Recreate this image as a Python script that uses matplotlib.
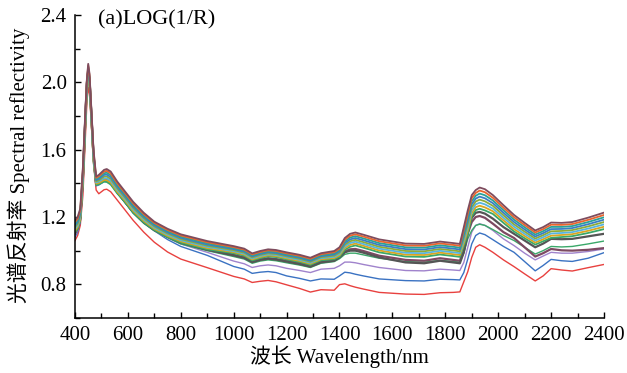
import matplotlib
matplotlib.use("Agg")
import matplotlib.pyplot as plt
from matplotlib.ticker import MultipleLocator

plt.rcParams['font.family'] = ['Liberation Serif', 'Noto Sans CJK SC']

# wavelength nodes (nm) at which every spectrum is sampled
wavelength = [400, 410, 420, 430, 440, 445, 450, 455, 460, 470,
              480, 490, 500, 510, 520, 535, 560, 590, 620, 660,
              700, 750, 800, 900, 1000, 1040, 1070, 1100, 1130, 1160,
              1200, 1250, 1290, 1330, 1380, 1400, 1420, 1440, 1460, 1490,
              1550, 1650, 1720, 1780, 1830, 1855, 1870, 1885, 1900, 1915,
              1930, 1950, 1980, 2020, 2060, 2100, 2140, 2170, 2200, 2240,
              2280, 2340, 2400]

# spectra lying below the main bundle
red_sample = [1.060, 1.090, 1.150, 1.330, 1.700, 1.880, 1.970, 1.930, 1.800, 1.520,
              1.360, 1.338, 1.350, 1.362, 1.365, 1.350, 1.300, 1.240, 1.180, 1.110,
              1.050, 0.992, 0.950, 0.899, 0.847, 0.832, 0.811, 0.818, 0.823, 0.815,
              0.797, 0.775, 0.754, 0.768, 0.765, 0.798, 0.803, 0.792, 0.783, 0.772,
              0.752, 0.742, 0.740, 0.750, 0.752, 0.755, 0.815, 0.875, 0.960, 1.020,
              1.035, 1.020, 0.990, 0.945, 0.905, 0.862, 0.820, 0.850, 0.893, 0.885,
              0.879, 0.899, 0.918]
blue_sample = [1.080, 1.110, 1.170, 1.400, 1.780, 1.960, 2.030, 1.990, 1.840, 1.540,
               1.385, 1.390, 1.400, 1.410, 1.410, 1.395, 1.345, 1.285, 1.225, 1.165,
               1.118, 1.066, 1.025, 0.972, 0.906, 0.890, 0.865, 0.872, 0.876, 0.870,
               0.850, 0.835, 0.820, 0.832, 0.830, 0.850, 0.872, 0.868, 0.860, 0.850,
               0.832, 0.822, 0.820, 0.830, 0.828, 0.826, 0.870, 0.950, 1.040, 1.090,
               1.105, 1.095, 1.065, 1.025, 0.990, 0.935, 0.880, 0.912, 0.948, 0.940,
               0.936, 0.955, 0.988]
purple_sample = [1.090, 1.120, 1.180, 1.420, 1.800, 1.980, 2.050, 2.000, 1.850, 1.550,
                 1.390, 1.395, 1.405, 1.415, 1.415, 1.400, 1.345, 1.285, 1.225, 1.165,
                 1.120, 1.076, 1.040, 0.990, 0.938, 0.922, 0.900, 0.910, 0.915, 0.910,
                 0.895, 0.882, 0.870, 0.890, 0.895, 0.910, 0.932, 0.932, 0.928, 0.918,
                 0.900, 0.882, 0.880, 0.890, 0.885, 0.882, 0.930, 1.020, 1.110, 1.150,
                 1.160, 1.150, 1.120, 1.070, 1.030, 0.985, 0.945, 0.968, 0.990, 0.985,
                 0.985, 0.995, 1.010]
green_sample = [1.100, 1.130, 1.190, 1.430, 1.810, 1.990, 2.060, 2.010, 1.860, 1.560,
                1.390, 1.395, 1.405, 1.415, 1.415, 1.400, 1.342, 1.283, 1.222, 1.162,
                1.118, 1.078, 1.040, 1.000, 0.965, 0.950, 0.925, 0.938, 0.945, 0.940,
                0.928, 0.914, 0.900, 0.925, 0.935, 0.952, 0.978, 0.985, 0.985, 0.975,
                0.955, 0.935, 0.932, 0.942, 0.936, 0.932, 0.985, 1.070, 1.120, 1.150,
                1.157, 1.150, 1.125, 1.090, 1.060, 1.020, 0.980, 1.000, 1.025, 1.022,
                1.025, 1.040, 1.057]
maroon_sample = [1.100, 1.130, 1.190, 1.430, 1.810, 1.990, 2.060, 2.010, 1.860, 1.560,
                 1.395, 1.400, 1.410, 1.420, 1.420, 1.405, 1.350, 1.290, 1.230, 1.170,
                 1.125, 1.085, 1.050, 1.010, 0.975, 0.960, 0.935, 0.948, 0.955, 0.950,
                 0.940, 0.925, 0.910, 0.935, 0.945, 0.965, 0.995, 1.008, 1.010, 0.998,
                 0.970, 0.945, 0.940, 0.955, 0.945, 0.940, 1.000, 1.100, 1.170, 1.200,
                 1.206, 1.195, 1.160, 1.110, 1.075, 1.020, 0.965, 0.985, 1.010, 1.002,
                 1.000, 1.005, 1.015]
gray_sample = [1.110, 1.140, 1.200, 1.440, 1.820, 2.000, 2.065, 2.015, 1.865, 1.565,
               1.395, 1.400, 1.408, 1.418, 1.418, 1.403, 1.346, 1.288, 1.230, 1.170,
               1.122, 1.083, 1.047, 1.005, 0.972, 0.957, 0.932, 0.945, 0.952, 0.947,
               0.935, 0.920, 0.905, 0.930, 0.940, 0.960, 0.990, 1.000, 1.000, 0.988,
               0.960, 0.930, 0.925, 0.940, 0.930, 0.925, 0.990, 1.110, 1.195, 1.225,
               1.230, 1.220, 1.190, 1.140, 1.100, 1.060, 1.020, 1.042, 1.070, 1.068,
               1.070, 1.085, 1.100]

# main bundle of spectra, from the top edge down
s01 = [1.180, 1.200, 1.250, 1.500, 1.860, 2.020, 2.110, 2.050, 1.900, 1.600,
       1.440, 1.450, 1.465, 1.480, 1.485, 1.470, 1.410, 1.350, 1.290, 1.225,
       1.172, 1.130, 1.097, 1.057, 1.027, 1.012, 0.984, 0.998, 1.008, 1.004,
       0.990, 0.975, 0.958, 0.985, 0.998, 1.020, 1.075, 1.100, 1.108, 1.095,
       1.067, 1.042, 1.040, 1.054, 1.045, 1.040, 1.140, 1.240, 1.330, 1.360,
       1.375, 1.365, 1.330, 1.270, 1.212, 1.165, 1.120, 1.140, 1.167, 1.165,
       1.170, 1.196, 1.226]
s02 = [1.170, 1.190, 1.240, 1.488, 1.848, 2.010, 2.100, 2.040, 1.890, 1.590,
       1.433, 1.442, 1.456, 1.470, 1.474, 1.459, 1.400, 1.341, 1.281, 1.217,
       1.165, 1.123, 1.090, 1.050, 1.021, 1.006, 0.978, 0.992, 1.002, 0.998,
       0.984, 0.969, 0.952, 0.979, 0.991, 1.012, 1.065, 1.089, 1.097, 1.084,
       1.056, 1.031, 1.029, 1.043, 1.034, 1.029, 1.124, 1.220, 1.312, 1.343,
       1.357, 1.347, 1.314, 1.255, 1.198, 1.152, 1.108, 1.128, 1.154, 1.153,
       1.158, 1.183, 1.212]
s03 = [1.160, 1.180, 1.230, 1.476, 1.836, 2.000, 2.090, 2.030, 1.880, 1.580,
       1.426, 1.434, 1.447, 1.460, 1.463, 1.448, 1.390, 1.332, 1.272, 1.209,
       1.158, 1.116, 1.083, 1.043, 1.015, 1.000, 0.972, 0.986, 0.996, 0.992,
       0.978, 0.963, 0.946, 0.973, 0.984, 1.004, 1.055, 1.078, 1.086, 1.073,
       1.045, 1.020, 1.018, 1.032, 1.023, 1.018, 1.108, 1.200, 1.294, 1.326,
       1.339, 1.329, 1.298, 1.240, 1.184, 1.139, 1.096, 1.116, 1.141, 1.141,
       1.146, 1.170, 1.198]
s04 = [1.150, 1.170, 1.220, 1.464, 1.824, 1.990, 2.080, 2.020, 1.870, 1.570,
       1.419, 1.426, 1.438, 1.450, 1.452, 1.437, 1.380, 1.323, 1.263, 1.201,
       1.151, 1.109, 1.076, 1.036, 1.009, 0.994, 0.966, 0.980, 0.990, 0.986,
       0.972, 0.957, 0.940, 0.967, 0.977, 0.996, 1.045, 1.067, 1.075, 1.062,
       1.034, 1.009, 1.007, 1.021, 1.012, 1.007, 1.092, 1.180, 1.276, 1.309,
       1.321, 1.311, 1.282, 1.225, 1.170, 1.126, 1.084, 1.104, 1.128, 1.129,
       1.134, 1.157, 1.184]
s05 = [1.140, 1.160, 1.210, 1.452, 1.812, 1.980, 2.070, 2.010, 1.860, 1.560,
       1.412, 1.418, 1.429, 1.440, 1.441, 1.426, 1.370, 1.314, 1.254, 1.193,
       1.144, 1.102, 1.069, 1.029, 1.003, 0.988, 0.960, 0.974, 0.984, 0.980,
       0.966, 0.951, 0.934, 0.961, 0.970, 0.988, 1.035, 1.056, 1.064, 1.051,
       1.023, 0.998, 0.996, 1.010, 1.001, 0.996, 1.076, 1.160, 1.258, 1.292,
       1.303, 1.293, 1.266, 1.210, 1.156, 1.113, 1.072, 1.092, 1.115, 1.117,
       1.122, 1.144, 1.170]
s06 = [1.130, 1.150, 1.200, 1.440, 1.800, 1.970, 2.060, 2.000, 1.850, 1.550,
       1.405, 1.410, 1.420, 1.430, 1.430, 1.415, 1.360, 1.305, 1.245, 1.185,
       1.137, 1.095, 1.062, 1.022, 0.997, 0.982, 0.954, 0.968, 0.978, 0.974,
       0.960, 0.945, 0.928, 0.955, 0.963, 0.980, 1.025, 1.045, 1.053, 1.040,
       1.012, 0.987, 0.985, 0.999, 0.990, 0.985, 1.060, 1.140, 1.240, 1.275,
       1.285, 1.275, 1.250, 1.195, 1.142, 1.100, 1.060, 1.080, 1.102, 1.105,
       1.110, 1.131, 1.156]
s07 = [1.120, 1.140, 1.190, 1.428, 1.788, 1.960, 2.050, 1.990, 1.840, 1.540,
       1.398, 1.402, 1.411, 1.420, 1.419, 1.404, 1.350, 1.296, 1.236, 1.177,
       1.130, 1.088, 1.055, 1.015, 0.991, 0.976, 0.948, 0.962, 0.972, 0.968,
       0.954, 0.939, 0.922, 0.949, 0.956, 0.972, 1.015, 1.034, 1.042, 1.029,
       1.001, 0.976, 0.974, 0.988, 0.979, 0.974, 1.044, 1.120, 1.222, 1.258,
       1.267, 1.257, 1.234, 1.180, 1.128, 1.087, 1.048, 1.068, 1.089, 1.093,
       1.098, 1.118, 1.142]
s08 = [1.110, 1.130, 1.180, 1.416, 1.776, 1.950, 2.040, 1.980, 1.830, 1.530,
       1.391, 1.394, 1.402, 1.410, 1.408, 1.393, 1.340, 1.287, 1.227, 1.169,
       1.123, 1.081, 1.048, 1.008, 0.985, 0.970, 0.942, 0.956, 0.966, 0.962,
       0.948, 0.933, 0.916, 0.943, 0.949, 0.964, 1.005, 1.023, 1.031, 1.018,
       0.990, 0.965, 0.963, 0.977, 0.968, 0.963, 1.028, 1.100, 1.204, 1.241,
       1.249, 1.239, 1.218, 1.165, 1.114, 1.074, 1.036, 1.056, 1.076, 1.081,
       1.086, 1.105, 1.128]

bundle = [s01, s02, s03, s04, s05, s06, s07, s08]
bundle_colors = ['#7e4c5e', '#e8652e', '#2aa198', '#3b7dc4',
                 '#8cab3a', '#56b4e0', '#d9a521', '#3aa869']

fig, ax = plt.subplots(figsize=(6.27, 3.73), dpi=100)
fig.subplots_adjust(left=0.1196, right=0.9633, bottom=0.1475, top=0.9598)

ax.plot(wavelength, red_sample, color='#e8413f', lw=1.0)
ax.plot(wavelength, blue_sample, color='#3a72c2', lw=1.0)
ax.plot(wavelength, purple_sample, color='#a083cc', lw=1.0)
ax.plot(wavelength, green_sample, color='#3aa869', lw=1.0)
ax.plot(wavelength, maroon_sample, color='#7d4a62', lw=1.6)
ax.plot(wavelength, gray_sample, color='#555555', lw=1.6)
for vals, c in zip(bundle[::-1], bundle_colors[::-1]):
    ax.plot(wavelength, vals, color=c, lw=1.3)

ax.set_xlim(400, 2400)
ax.set_ylim(0.6, 2.4)
ax.xaxis.set_major_locator(MultipleLocator(200))
ax.xaxis.set_minor_locator(MultipleLocator(100))
ax.yaxis.set_minor_locator(MultipleLocator(0.2))
ax.set_yticks([0.8, 1.2, 1.6, 2.0, 2.4])
ax.set_yticklabels(['0.8', '1.2', '1.6', '2.0', '2.4'])
ax.tick_params(which='both', direction='in', width=1, labelsize=15)
ax.tick_params(which='major', length=4)
ax.tick_params(which='minor', length=3.5)
ax.tick_params(axis='x', pad=6)
ax.tick_params(axis='y', pad=6)
for side in ['top', 'right']:
    ax.spines[side].set_visible(False)
for side in ['left', 'bottom']:
    ax.spines[side].set_linewidth(1.1)

ax.text(0.0435, 0.983, '(a)LOG(1/R)', transform=ax.transAxes,
        fontsize=16, va='center', ha='left')
fig.text(0.542, 0.043, '波长 Wavelength/nm', fontsize=15, ha='center', va='center')
fig.text(0.029, 0.558, '光谱反射率 Spectral reflectivity', fontsize=15,
         ha='center', va='center', rotation=90)

fig.savefig('out.png', dpi=100)
